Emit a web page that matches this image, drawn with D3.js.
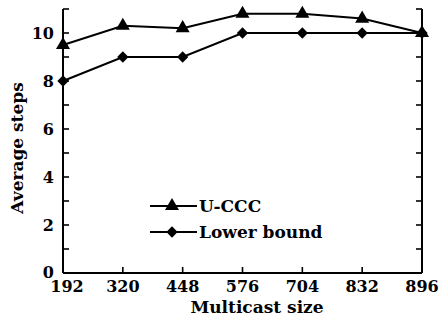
<!DOCTYPE html>
<html>
<head>
<meta charset="utf-8">
<script src="https://cdn.jsdelivr.net/npm/d3@7"></script>
<style>
  body { margin: 0; background: #fff; }
  svg text { font-family: "DejaVu Serif", serif; font-weight: bold; fill: #000; }
</style>
</head>
<body>
<svg id="chart"></svg>
<script>
const sizes = ["192", "320", "448", "576", "704", "832", "896"]
const uccc = [9.5, 10.3, 10.2, 10.8, 10.8, 10.6, 10.0]
const lowerBound = [8, 9, 9, 10, 10, 10, 10]
const yTicks = [0, 2, 4, 6, 8, 10]

const width = 439, height = 323
const margin = { top: 9, right: 17, bottom: 50, left: 63 }

const svg = d3.select('#chart')
    .attr('width', width)
    .attr('height', height)

const x = d3.scalePoint()
    .domain(sizes)
    .range([margin.left, width - margin.right])

const y = d3.scaleLinear()
    .domain([0, 11])
    .range([height - margin.bottom, margin.top])

const minor = d3.range(0, 12)

// left axis
const left = svg.append('g')
    .attr('transform', `translate(${margin.left},0)`)
left.append('line')
    .attr('y1', y(0)).attr('y2', y(11))
    .attr('stroke', '#000').attr('stroke-width', 2)
left.selectAll('.tk').data(minor).join('line')
    .attr('x1', 0).attr('x2', 6)
    .attr('y1', d => y(d)).attr('y2', d => y(d))
    .attr('stroke', '#000').attr('stroke-width', 1.6)
left.selectAll('.lbl').data(yTicks).join('text')
    .attr('x', -9)
    .attr('y', d => y(d) - (d === 0 ? 1 : 0))
    .attr('dy', '0.36em')
    .attr('text-anchor', 'end')
    .style('font-size', '16px')
    .text(d => d)

// right axis
const right = svg.append('g')
    .attr('transform', `translate(${width - margin.right},0)`)
right.append('line')
    .attr('y1', y(0)).attr('y2', y(11))
    .attr('stroke', '#000').attr('stroke-width', 2)
right.selectAll('.tk').data(minor).join('line')
    .attr('x1', 0).attr('x2', -6)
    .attr('y1', d => y(d)).attr('y2', d => y(d))
    .attr('stroke', '#000').attr('stroke-width', 1.6)

// bottom axis
const bottom = svg.append('g')
    .attr('transform', `translate(0,${y(0)})`)
bottom.append('line')
    .attr('x1', margin.left).attr('x2', width - margin.right)
    .attr('stroke', '#000').attr('stroke-width', 2)
bottom.selectAll('.tk').data(sizes).join('line')
    .attr('x1', d => x(d)).attr('x2', d => x(d))
    .attr('y1', 0).attr('y2', -6)
    .attr('stroke', '#000').attr('stroke-width', 1.6)
bottom.selectAll('.lbl').data(sizes).join('text')
    .attr('x', (d, i) => x(d) + (i === 0 ? 4 : 0))
    .attr('y', 19)
    .attr('text-anchor', 'middle')
    .style('font-size', '16px')
    .text(d => d)

svg.append('text')
    .attr('x', 257)
    .attr('y', 313)
    .attr('text-anchor', 'middle')
    .style('font-size', '17px')
    .text('Multicast size')

svg.append('text')
    .attr('transform', `translate(23,148) rotate(-90)`)
    .attr('text-anchor', 'middle')
    .style('font-size', '17px')
    .text('Average steps')

const line = d3.line()
    .x((d, i) => x(sizes[i]))
    .y(d => y(d))

const triangle = d3.symbol().type(d3.symbolTriangle).size(85)
const diamond = d3.symbol().type(d3.symbolSquare).size(64)

const series = [
    { name: 'U-CCC', values: uccc, shape: triangle, rot: 0 },
    { name: 'Lower bound', values: lowerBound, shape: diamond, rot: 45 }
]

series.forEach(s => {
    svg.append('path')
        .attr('d', line(s.values))
        .attr('fill', 'none')
        .attr('stroke', '#000')
        .attr('stroke-width', 2)
    svg.selectAll(null).data(s.values).join('path')
        .attr('d', s.shape())
        .attr('transform', (d, i) => `translate(${x(sizes[i])},${y(d)}) rotate(${s.rot})`)
        .attr('fill', '#000')
})

// legend
const legend = svg.append('g')
series.forEach((s, i) => {
    const ly = 206 + i * 26
    legend.append('line')
        .attr('x1', 150).attr('x2', 197)
        .attr('y1', ly).attr('y2', ly)
        .attr('stroke', '#000').attr('stroke-width', 2)
    legend.append('path')
        .attr('d', s.shape())
        .attr('transform', `translate(172,${ly}) rotate(${s.rot})`)
        .attr('fill', '#000')
    legend.append('text')
        .attr('x', 199)
        .attr('y', ly)
        .attr('dy', '0.36em')
        .style('font-size', '17px')
        .text(s.name)
})
</script>
</body>
</html>
